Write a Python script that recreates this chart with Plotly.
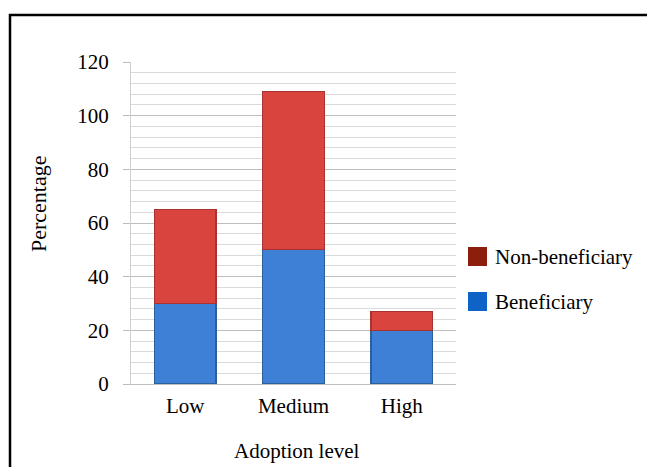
import plotly.graph_objects as go

# Adoption levels and share of respondents (%) in each group
levels = ["Low", "Medium", "High"]
beneficiary = [30, 50, 20]
non_beneficiary = [35, 59, 7]

BLUE_FILL = "#3d80d6"
BLUE_EDGE = "#2b5f9e"
RED_FILL = "#d9443f"
RED_EDGE = "#a83330"
BLUE_KEY = "#0f63c6"
RED_KEY = "#8c1e0c"
SERIF = "Times New Roman, Liberation Serif, serif"

fig = go.Figure()
fig.add_trace(go.Bar(
    x=levels, y=beneficiary, name="Beneficiary",
    marker=dict(color=BLUE_FILL, line=dict(color=BLUE_EDGE, width=1.2)),
))
fig.add_trace(go.Bar(
    x=levels, y=non_beneficiary, name="Non-beneficiary",
    marker=dict(color=RED_FILL, line=dict(color=RED_EDGE, width=1.2)),
))

L, R, T, B = 131, 191, 62, 83
W, H = 647, 467
pw, ph = W - L - R, H - T - B


def px_to_paper(x, y):
    return (x - L) / pw, (H - B - y) / ph


shapes = []
annotations = []

# outer frame
fx0, fy1 = px_to_paper(10, 15)
fx1, fy0 = px_to_paper(660, 480)
shapes.append(dict(type="rect", xref="paper", yref="paper",
                   x0=fx0, x1=fx1, y0=fy0, y1=fy1,
                   line=dict(color="black", width=2.5), fillcolor="rgba(0,0,0,0)",
                   layer="above"))

# legend keys
for label, color, top in [("Non-beneficiary", RED_KEY, 247), ("Beneficiary", BLUE_KEY, 292)]:
    kx0, ky1 = px_to_paper(468, top)
    kx1, ky0 = px_to_paper(487, top + 19)
    shapes.append(dict(type="rect", xref="paper", yref="paper",
                       x0=kx0, x1=kx1, y0=ky0, y1=ky1,
                       line=dict(width=0), fillcolor=color))
    tx, ty = px_to_paper(493, top + 9.5)
    annotations.append(dict(xref="paper", yref="paper", x=tx, y=ty, text=label,
                            showarrow=False, xanchor="left", yanchor="middle",
                            font=dict(family=SERIF, size=21, color="black")))

# axis titles
ax, ay = px_to_paper(38, 204)
annotations.append(dict(xref="paper", yref="paper", x=ax, y=ay, text="Percentage",
                        textangle=-90, showarrow=False, xanchor="center", yanchor="middle",
                        font=dict(family=SERIF, size=22, color="black")))
bx, by = px_to_paper(297, 451)
annotations.append(dict(xref="paper", yref="paper", x=bx, y=by, text="Adoption level",
                        showarrow=False, xanchor="center", yanchor="middle",
                        font=dict(family=SERIF, size=21, color="black")))

fig.update_layout(
    width=W, height=H,
    margin=dict(l=L, r=R, t=T, b=B),
    barmode="stack",
    bargap=0.43,
    showlegend=False,
    paper_bgcolor="white",
    plot_bgcolor="white",
    font=dict(family=SERIF, size=21, color="black"),
    shapes=shapes,
    annotations=annotations,
)
fig.update_yaxes(
    range=[0, 120], dtick=20, tick0=0,
    showgrid=True, gridcolor="#bdbdbd", gridwidth=1,
    minor=dict(dtick=4, showgrid=True, gridcolor="#dadada", gridwidth=1),
    ticks="outside", ticklen=7, tickcolor="#bdbdbd",
    ticklabelstandoff=10,
    showline=True, linecolor="#cfcfcf", linewidth=1,
    zeroline=False,
    tickfont=dict(family=SERIF, size=21, color="black"),
)
fig.update_xaxes(
    showline=True, linecolor="#bdbdbd", linewidth=1,
    ticks="", ticklabelstandoff=3,
    tickfont=dict(family=SERIF, size=21, color="black"),
)

fig.write_html("out.html")
